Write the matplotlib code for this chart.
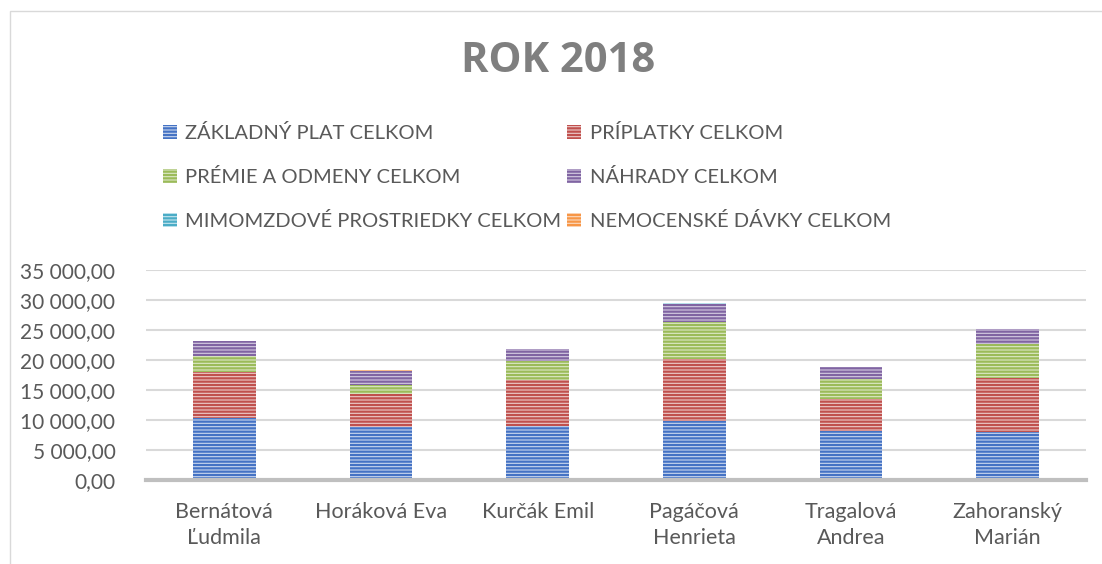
import numpy as np
import matplotlib
matplotlib.use("Agg")
import matplotlib.pyplot as plt
from matplotlib.patches import Rectangle

plt.rcParams["font.family"] = ["Lato", "DejaVu Sans"]
plt.rcParams["hatch.linewidth"] = 1.6

# data
names = ["Bernátová\nĽudmila", "Horáková Eva", "Kurčák Emil",
         "Pagáčová\nHenrieta", "Tragalová\nAndrea", "Zahoranský\nMarián"]
series = ["ZÁKLADNÝ PLAT CELKOM", "PRÍPLATKY CELKOM",
          "PRÉMIE A ODMENY CELKOM", "NÁHRADY CELKOM",
          "MIMOMZDOVÉ PROSTRIEDKY CELKOM", "NEMOCENSKÉ DÁVKY CELKOM"]
zakladny = [10300, 8900, 9000, 9800, 8200, 7950]
priplatky = [7750, 5400, 7700, 10300, 5300, 9100]
premie = [2650, 1500, 3200, 6200, 3300, 5650]
nahrady = [2500, 2300, 2000, 3000, 2000, 2400]
mimomzdove = [0, 0, 0, 200, 0, 0]
nemocenske = [0, 200, 0, 0, 0, 0]
yticks = [0, 5000, 10000, 15000, 20000, 25000, 30000, 35000]

colors = ["#4472C4", "#C0504D", "#9BBB59", "#8064A2", "#4BACC6", "#F79646"]
light = ["#C9D6EE", "#ECCAC9", "#DDE8C8", "#D5CCE2", "#C6E6EF", "#FCDAC0"]

fig = plt.figure(figsize=(11.02, 5.64), dpi=100)
fig.patches.append(Rectangle((10 / 1102, -0.1), 1.2, 1 - 11 / 564 + 0.1,
                             transform=fig.transFigure, fill=False,
                             edgecolor="#D9D9D9", linewidth=1))
ax = fig.add_axes([146 / 1102, 84 / 564, 940 / 1102, 210 / 564])

x = np.arange(len(names))
bottom = np.zeros(len(names))
handles = []
for vals, name, c, lc in zip([zakladny, priplatky, premie, nahrady, mimomzdove, nemocenske],
                             series, colors, light):
    b = ax.bar(x, vals, 0.4, bottom=bottom, color=lc, edgecolor=c,
               hatch="-----", linewidth=0, label=name, zorder=3)
    handles.append(b)
    bottom += np.array(vals)

ax.set_xlim(-0.5, len(names) - 0.5)
ax.set_ylim(0, 35000)
ax.set_yticks(yticks)
ax.set_yticklabels([f"{v:,.2f}".replace(",", " ").replace(".", ",") for v in yticks],
                   fontsize=15, color="#595959")
ax.set_xticks(x)
ax.set_xticklabels(names, fontsize=15.5, color="#595959", linespacing=1.35)
ax.tick_params(length=0)
ax.tick_params(axis="y", pad=22)
ax.tick_params(axis="x", pad=16)
ax.grid(axis="y", color="#D9D9D9", linewidth=1.5, zorder=0)
for s in ["top", "right", "left"]:
    ax.spines[s].set_visible(False)
ax.spines["bottom"].set_color("#BFBFBF")
ax.spines["bottom"].set_linewidth(3)
ax.spines["bottom"].set_zorder(4)

order = [0, 2, 4, 1, 3, 5]
leg = fig.legend([handles[i] for i in order], [series[i] for i in order],
                 ncol=2, loc="upper left", bbox_to_anchor=(155 / 1102, 1 - 116 / 564),
                 frameon=False, fontsize=14.5, labelcolor="#595959",
                 handlelength=0.7, handleheight=0.7, handletextpad=0.4,
                 columnspacing=0.3, labelspacing=1.28, borderaxespad=0)

fig.text(558 / 1102, 1 - 62 / 564, "ROK 2018", ha="center", va="center",
         fontsize=30, fontweight="bold", color="#7F7F7F", family="Open Sans")

fig.savefig("out.png", dpi=100)
